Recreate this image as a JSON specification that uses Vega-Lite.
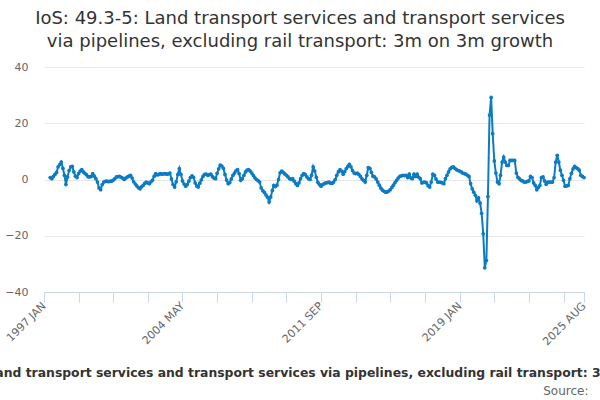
{
  "$schema": "https://vega.github.io/schema/vega-lite/v6.json",
  "width": 540,
  "height": 225,
  "autosize": "none",
  "padding": {"left": 44, "top": 67, "right": 16, "bottom": 108},
  "background": "#ffffff",
  "title": {
    "text": ["IoS: 49.3-5: Land transport services and transport services", "via pipelines, excluding rail transport: 3m on 3m growth"],
    "anchor": "middle",
    "frame": "group",
    "dx": -14,
    "offset": 10,
    "font": "DejaVu Sans",
    "fontSize": 18,
    "fontWeight": "normal",
    "color": "#333333",
    "lineHeight": 23
  },
  "data": {
    "format": {"parse": {"date": "utc:'%Y-%m'"}},
    "values": [
      {"date": "1997-05", "growth": 0.7}, {"date": "1997-06", "growth": 0.3}, {"date": "1997-07", "growth": 1.1}, {"date": "1997-08", "growth": 1.8},
      {"date": "1997-09", "growth": 2.5}, {"date": "1997-10", "growth": 4.5}, {"date": "1997-11", "growth": 5.3}, {"date": "1997-12", "growth": 6.2},
      {"date": "1998-01", "growth": 4.0}, {"date": "1998-02", "growth": 1.5}, {"date": "1998-03", "growth": -1.8}, {"date": "1998-04", "growth": 0.9},
      {"date": "1998-05", "growth": 3.2}, {"date": "1998-06", "growth": 4.5}, {"date": "1998-07", "growth": 4.7}, {"date": "1998-08", "growth": 2.7},
      {"date": "1998-09", "growth": 1.2}, {"date": "1998-10", "growth": 0.7}, {"date": "1998-11", "growth": 2.1}, {"date": "1998-12", "growth": 3.0},
      {"date": "1999-01", "growth": 3.5}, {"date": "1999-02", "growth": 2.7}, {"date": "1999-03", "growth": 2.2}, {"date": "1999-04", "growth": 1.7},
      {"date": "1999-05", "growth": 1.0}, {"date": "1999-06", "growth": 0.9}, {"date": "1999-07", "growth": 1.1}, {"date": "1999-08", "growth": 2.1},
      {"date": "1999-09", "growth": 1.2}, {"date": "1999-10", "growth": 0.3}, {"date": "1999-11", "growth": -0.9}, {"date": "1999-12", "growth": -3.0},
      {"date": "2000-01", "growth": -3.6}, {"date": "2000-02", "growth": -1.8}, {"date": "2000-03", "growth": -0.9}, {"date": "2000-04", "growth": -0.7},
      {"date": "2000-05", "growth": -0.6}, {"date": "2000-06", "growth": -0.8}, {"date": "2000-07", "growth": -0.6}, {"date": "2000-08", "growth": -0.6},
      {"date": "2000-09", "growth": -0.2}, {"date": "2000-10", "growth": 0.3}, {"date": "2000-11", "growth": 0.9}, {"date": "2000-12", "growth": 1.0},
      {"date": "2001-01", "growth": 1.1}, {"date": "2001-02", "growth": 0.8}, {"date": "2001-03", "growth": 0.5}, {"date": "2001-04", "growth": 0.0},
      {"date": "2001-05", "growth": 0.5}, {"date": "2001-06", "growth": 0.9}, {"date": "2001-07", "growth": 1.2}, {"date": "2001-08", "growth": 1.5},
      {"date": "2001-09", "growth": 0.5}, {"date": "2001-10", "growth": -0.8}, {"date": "2001-11", "growth": -1.6}, {"date": "2001-12", "growth": -2.3},
      {"date": "2002-01", "growth": -2.9}, {"date": "2002-02", "growth": -3.3}, {"date": "2002-03", "growth": -2.6}, {"date": "2002-04", "growth": -2.1},
      {"date": "2002-05", "growth": -1.4}, {"date": "2002-06", "growth": -0.9}, {"date": "2002-07", "growth": -1.2}, {"date": "2002-08", "growth": -1.5},
      {"date": "2002-09", "growth": -0.8}, {"date": "2002-10", "growth": -0.2}, {"date": "2002-11", "growth": 1.2}, {"date": "2002-12", "growth": 2.1},
      {"date": "2003-01", "growth": 1.6}, {"date": "2003-02", "growth": 1.8}, {"date": "2003-03", "growth": 2.1}, {"date": "2003-04", "growth": 1.9},
      {"date": "2003-05", "growth": 2.0}, {"date": "2003-06", "growth": 2.1}, {"date": "2003-07", "growth": 1.9}, {"date": "2003-08", "growth": 2.0},
      {"date": "2003-09", "growth": 2.3}, {"date": "2003-10", "growth": 0.2}, {"date": "2003-11", "growth": -1.8}, {"date": "2003-12", "growth": -2.7},
      {"date": "2004-01", "growth": -0.8}, {"date": "2004-02", "growth": 1.8}, {"date": "2004-03", "growth": 3.9}, {"date": "2004-04", "growth": 1.8},
      {"date": "2004-05", "growth": -0.5}, {"date": "2004-06", "growth": -1.6}, {"date": "2004-07", "growth": -2.4}, {"date": "2004-08", "growth": -1.8},
      {"date": "2004-09", "growth": -0.6}, {"date": "2004-10", "growth": 0.7}, {"date": "2004-11", "growth": 1.3}, {"date": "2004-12", "growth": 0.8},
      {"date": "2005-01", "growth": -1.2}, {"date": "2005-02", "growth": -2.3}, {"date": "2005-03", "growth": -2.7}, {"date": "2005-04", "growth": -1.3},
      {"date": "2005-05", "growth": -0.1}, {"date": "2005-06", "growth": 1.1}, {"date": "2005-07", "growth": 1.8}, {"date": "2005-08", "growth": 1.9},
      {"date": "2005-09", "growth": 1.5}, {"date": "2005-10", "growth": 1.7}, {"date": "2005-11", "growth": 1.9}, {"date": "2005-12", "growth": 1.0},
      {"date": "2006-01", "growth": 0.5}, {"date": "2006-02", "growth": 0.3}, {"date": "2006-03", "growth": 2.2}, {"date": "2006-04", "growth": 3.8},
      {"date": "2006-05", "growth": 5.1}, {"date": "2006-06", "growth": 4.8}, {"date": "2006-07", "growth": 4.0}, {"date": "2006-08", "growth": 1.8},
      {"date": "2006-09", "growth": -0.2}, {"date": "2006-10", "growth": -1.5}, {"date": "2006-11", "growth": -1.1}, {"date": "2006-12", "growth": 0.2},
      {"date": "2007-01", "growth": 1.5}, {"date": "2007-02", "growth": 2.3}, {"date": "2007-03", "growth": 3.1}, {"date": "2007-04", "growth": 3.5},
      {"date": "2007-05", "growth": 2.1}, {"date": "2007-06", "growth": -0.3}, {"date": "2007-07", "growth": 0.3}, {"date": "2007-08", "growth": 1.5},
      {"date": "2007-09", "growth": 2.7}, {"date": "2007-10", "growth": 3.3}, {"date": "2007-11", "growth": 3.5}, {"date": "2007-12", "growth": 3.0},
      {"date": "2008-01", "growth": 2.3}, {"date": "2008-02", "growth": 1.4}, {"date": "2008-03", "growth": 0.6}, {"date": "2008-04", "growth": 0.0},
      {"date": "2008-05", "growth": -0.4}, {"date": "2008-06", "growth": -0.9}, {"date": "2008-07", "growth": -3.0}, {"date": "2008-08", "growth": -4.0},
      {"date": "2008-09", "growth": -4.6}, {"date": "2008-10", "growth": -5.5}, {"date": "2008-11", "growth": -6.3}, {"date": "2008-12", "growth": -8.0},
      {"date": "2009-01", "growth": -6.2}, {"date": "2009-02", "growth": -3.9}, {"date": "2009-03", "growth": -2.1}, {"date": "2009-04", "growth": -2.5},
      {"date": "2009-05", "growth": -2.0}, {"date": "2009-06", "growth": 0.0}, {"date": "2009-07", "growth": 2.4}, {"date": "2009-08", "growth": 3.0},
      {"date": "2009-09", "growth": 2.5}, {"date": "2009-10", "growth": 2.0}, {"date": "2009-11", "growth": 1.5}, {"date": "2009-12", "growth": 0.9},
      {"date": "2010-01", "growth": 0.3}, {"date": "2010-02", "growth": 0.0}, {"date": "2010-03", "growth": 0.3}, {"date": "2010-04", "growth": -0.6},
      {"date": "2010-05", "growth": -1.5}, {"date": "2010-06", "growth": -2.1}, {"date": "2010-07", "growth": -1.2}, {"date": "2010-08", "growth": 0.3},
      {"date": "2010-09", "growth": 1.5}, {"date": "2010-10", "growth": 2.1}, {"date": "2010-11", "growth": 1.7}, {"date": "2010-12", "growth": 0.9},
      {"date": "2011-01", "growth": 0.3}, {"date": "2011-02", "growth": 0.0}, {"date": "2011-03", "growth": 1.5}, {"date": "2011-04", "growth": 4.5},
      {"date": "2011-05", "growth": 3.0}, {"date": "2011-06", "growth": 0.8}, {"date": "2011-07", "growth": -1.0}, {"date": "2011-08", "growth": -1.8},
      {"date": "2011-09", "growth": -2.4}, {"date": "2011-10", "growth": -1.8}, {"date": "2011-11", "growth": -1.5}, {"date": "2011-12", "growth": -1.2},
      {"date": "2012-01", "growth": -1.1}, {"date": "2012-02", "growth": -0.9}, {"date": "2012-03", "growth": -1.3}, {"date": "2012-04", "growth": -1.4},
      {"date": "2012-05", "growth": -0.9}, {"date": "2012-06", "growth": 0.0}, {"date": "2012-07", "growth": 1.5}, {"date": "2012-08", "growth": 2.8},
      {"date": "2012-09", "growth": 3.5}, {"date": "2012-10", "growth": 3.0}, {"date": "2012-11", "growth": 1.9}, {"date": "2012-12", "growth": 2.8},
      {"date": "2013-01", "growth": 3.9}, {"date": "2013-02", "growth": 4.7}, {"date": "2013-03", "growth": 5.4}, {"date": "2013-04", "growth": 4.5},
      {"date": "2013-05", "growth": 3.2}, {"date": "2013-06", "growth": 2.3}, {"date": "2013-07", "growth": 2.1}, {"date": "2013-08", "growth": 2.3},
      {"date": "2013-09", "growth": 1.8}, {"date": "2013-10", "growth": 1.1}, {"date": "2013-11", "growth": 0.2}, {"date": "2013-12", "growth": -0.3},
      {"date": "2014-01", "growth": -0.9}, {"date": "2014-02", "growth": 1.5}, {"date": "2014-03", "growth": 4.2}, {"date": "2014-04", "growth": 4.0},
      {"date": "2014-05", "growth": 2.5}, {"date": "2014-06", "growth": 1.2}, {"date": "2014-07", "growth": 0.9}, {"date": "2014-08", "growth": 0.2},
      {"date": "2014-09", "growth": -0.9}, {"date": "2014-10", "growth": -2.0}, {"date": "2014-11", "growth": -3.1}, {"date": "2014-12", "growth": -3.8},
      {"date": "2015-01", "growth": -4.2}, {"date": "2015-02", "growth": -4.5}, {"date": "2015-03", "growth": -4.4}, {"date": "2015-04", "growth": -4.1},
      {"date": "2015-05", "growth": -3.6}, {"date": "2015-06", "growth": -2.8}, {"date": "2015-07", "growth": -2.0}, {"date": "2015-08", "growth": -1.1},
      {"date": "2015-09", "growth": -0.3}, {"date": "2015-10", "growth": 0.5}, {"date": "2015-11", "growth": 1.1}, {"date": "2015-12", "growth": 1.3},
      {"date": "2016-01", "growth": 1.5}, {"date": "2016-02", "growth": 1.4}, {"date": "2016-03", "growth": 1.5}, {"date": "2016-04", "growth": 0.7},
      {"date": "2016-05", "growth": 1.9}, {"date": "2016-06", "growth": 0.6}, {"date": "2016-07", "growth": 0.3}, {"date": "2016-08", "growth": 1.9},
      {"date": "2016-09", "growth": 1.1}, {"date": "2016-10", "growth": 1.9}, {"date": "2016-11", "growth": 0.8}, {"date": "2016-12", "growth": 0.3},
      {"date": "2017-01", "growth": -1.2}, {"date": "2017-02", "growth": -1.0}, {"date": "2017-03", "growth": -0.9}, {"date": "2017-04", "growth": -1.2},
      {"date": "2017-05", "growth": -2.2}, {"date": "2017-06", "growth": -2.7}, {"date": "2017-07", "growth": -0.9}, {"date": "2017-08", "growth": 1.9},
      {"date": "2017-09", "growth": 1.5}, {"date": "2017-10", "growth": 0.2}, {"date": "2017-11", "growth": -0.9}, {"date": "2017-12", "growth": -0.9},
      {"date": "2018-01", "growth": -1.0}, {"date": "2018-02", "growth": -1.2}, {"date": "2018-03", "growth": -1.5}, {"date": "2018-04", "growth": 0.3},
      {"date": "2018-05", "growth": 1.5}, {"date": "2018-06", "growth": 2.7}, {"date": "2018-07", "growth": 3.8}, {"date": "2018-08", "growth": 4.3},
      {"date": "2018-09", "growth": 4.5}, {"date": "2018-10", "growth": 4.0}, {"date": "2018-11", "growth": 3.5}, {"date": "2018-12", "growth": 3.2},
      {"date": "2019-01", "growth": 3.0}, {"date": "2019-02", "growth": 2.7}, {"date": "2019-03", "growth": 2.3}, {"date": "2019-04", "growth": 2.1},
      {"date": "2019-05", "growth": 1.9}, {"date": "2019-06", "growth": 1.5}, {"date": "2019-07", "growth": 1.1}, {"date": "2019-08", "growth": -1.5},
      {"date": "2019-09", "growth": -3.3}, {"date": "2019-10", "growth": -4.5}, {"date": "2019-11", "growth": -5.6}, {"date": "2019-12", "growth": -7.6},
      {"date": "2020-01", "growth": -6.5}, {"date": "2020-02", "growth": -8.4}, {"date": "2020-03", "growth": -12.0}, {"date": "2020-04", "growth": -19.3},
      {"date": "2020-05", "growth": -31.4}, {"date": "2020-06", "growth": -28.8}, {"date": "2020-07", "growth": -6.0}, {"date": "2020-08", "growth": 22.9},
      {"date": "2020-09", "growth": 29.2}, {"date": "2020-10", "growth": 16.3}, {"date": "2020-11", "growth": 6.6}, {"date": "2020-12", "growth": 2.3},
      {"date": "2021-01", "growth": -0.9}, {"date": "2021-02", "growth": -1.5}, {"date": "2021-03", "growth": 1.5}, {"date": "2021-04", "growth": 6.2},
      {"date": "2021-05", "growth": 8.0}, {"date": "2021-06", "growth": 6.2}, {"date": "2021-07", "growth": 5.0}, {"date": "2021-08", "growth": 5.0},
      {"date": "2021-09", "growth": 6.8}, {"date": "2021-10", "growth": 6.8}, {"date": "2021-11", "growth": 6.8}, {"date": "2021-12", "growth": 6.8},
      {"date": "2022-01", "growth": 2.3}, {"date": "2022-02", "growth": 0.8}, {"date": "2022-03", "growth": 0.3}, {"date": "2022-04", "growth": -0.3},
      {"date": "2022-05", "growth": -0.5}, {"date": "2022-06", "growth": -0.9}, {"date": "2022-07", "growth": -0.9}, {"date": "2022-08", "growth": -0.7},
      {"date": "2022-09", "growth": -0.5}, {"date": "2022-10", "growth": 1.1}, {"date": "2022-11", "growth": 0.7}, {"date": "2022-12", "growth": -1.2},
      {"date": "2023-01", "growth": -2.1}, {"date": "2023-02", "growth": -3.6}, {"date": "2023-03", "growth": -2.8}, {"date": "2023-04", "growth": -2.1},
      {"date": "2023-05", "growth": 0.7}, {"date": "2023-06", "growth": 0.9}, {"date": "2023-07", "growth": -0.5}, {"date": "2023-08", "growth": -1.7},
      {"date": "2023-09", "growth": -0.9}, {"date": "2023-10", "growth": -0.9}, {"date": "2023-11", "growth": -0.9}, {"date": "2023-12", "growth": -0.9},
      {"date": "2024-01", "growth": 0.7}, {"date": "2024-02", "growth": 6.2}, {"date": "2024-03", "growth": 8.6}, {"date": "2024-04", "growth": 6.2},
      {"date": "2024-05", "growth": 3.3}, {"date": "2024-06", "growth": 1.5}, {"date": "2024-07", "growth": -0.3}, {"date": "2024-08", "growth": -2.4},
      {"date": "2024-09", "growth": -2.3}, {"date": "2024-10", "growth": -2.1}, {"date": "2024-11", "growth": 0.3}, {"date": "2024-12", "growth": 2.2},
      {"date": "2025-01", "growth": 3.8}, {"date": "2025-02", "growth": 4.7}, {"date": "2025-03", "growth": 4.2}, {"date": "2025-04", "growth": 3.9},
      {"date": "2025-05", "growth": 3.3}, {"date": "2025-06", "growth": 1.5}, {"date": "2025-07", "growth": 1.1}, {"date": "2025-08", "growth": 0.7}
    ]
  },
  "mark": {
    "type": "line",
    "strokeWidth": 2,
    "point": {"filled": true, "size": 14}
  },
  "encoding": {
    "x": {
      "field": "date",
      "type": "temporal",
      "scale": {
        "type": "utc",
        "domain": [
          {"year": 1997, "month": 1, "date": 1, "utc": true},
          {"year": 2025, "month": 8, "date": 1, "utc": true}
        ]
      },
      "axis": {
        "values": [
          {"year": 1997, "month": 1, "date": 1, "utc": true},
          {"year": 1998, "month": 11, "date": 1, "utc": true},
          {"year": 2000, "month": 9, "date": 1, "utc": true},
          {"year": 2002, "month": 7, "date": 1, "utc": true},
          {"year": 2004, "month": 5, "date": 1, "utc": true},
          {"year": 2006, "month": 3, "date": 1, "utc": true},
          {"year": 2008, "month": 1, "date": 1, "utc": true},
          {"year": 2009, "month": 11, "date": 1, "utc": true},
          {"year": 2011, "month": 9, "date": 1, "utc": true},
          {"year": 2013, "month": 7, "date": 1, "utc": true},
          {"year": 2015, "month": 5, "date": 1, "utc": true},
          {"year": 2017, "month": 3, "date": 1, "utc": true},
          {"year": 2019, "month": 1, "date": 1, "utc": true},
          {"year": 2020, "month": 11, "date": 1, "utc": true},
          {"year": 2022, "month": 9, "date": 1, "utc": true},
          {"year": 2024, "month": 7, "date": 1, "utc": true},
          {"year": 2025, "month": 8, "date": 1, "utc": true}
        ],
        "labelExpr": "indexof(['1997-01','2004-05','2011-09','2019-01','2025-08'], utcFormat(datum.value, '%Y-%m')) >= 0 ? upper(utcFormat(datum.value, '%Y %b')) : ''",
        "labelAngle": -45,
        "labelAlign": "right",
        "labelBaseline": "middle",
        "labelPadding": 2,
        "labelOverlap": false,
        "labelFlush": false,
        "labelBound": false,
        "grid": false,
        "ticks": true,
        "tickSize": 10,
        "tickColor": "#ccd6eb",
        "domainColor": "#ccd6eb",
        "title": "Source:",
        "titleX": 544,
        "titleY": 102,
        "titleAlign": "right",
        "titleBaseline": "alphabetic",
        "titleFontSize": 12,
        "titleFontWeight": "normal",
        "titleColor": "#666666"
      }
    },
    "y": {
      "field": "growth",
      "type": "quantitative",
      "scale": {"domain": [-40, 40], "nice": false, "zero": false},
      "axis": {
        "values": [-40, -20, 0, 20, 40],
        "title": null,
        "domain": false,
        "ticks": false,
        "tickSize": 0,
        "labelPadding": 16,
        "grid": true,
        "gridColor": "#e6e6e6"
      }
    },
    "color": {
      "datum": "Land transport services and transport services via pipelines, excluding rail transport: 3m on 3m growth",
      "scale": {"range": ["#0b7bc4"]},
      "legend": {
        "orient": "none",
        "legendX": -73,
        "legendY": 300,
        "title": null,
        "padding": 0,
        "symbolType": "stroke",
        "labelFontSize": 12.4,
        "labelFontWeight": "bold",
        "labelColor": "#333333",
        "labelLimit": 2000
      }
    }
  },
  "config": {
    "view": {"stroke": null},
    "font": "DejaVu Sans",
    "axis": {
      "labelFont": "DejaVu Sans",
      "labelFontSize": 11,
      "labelColor": "#666666",
      "titleFont": "DejaVu Sans"
    },
    "legend": {"labelFont": "DejaVu Sans"}
  }
}
